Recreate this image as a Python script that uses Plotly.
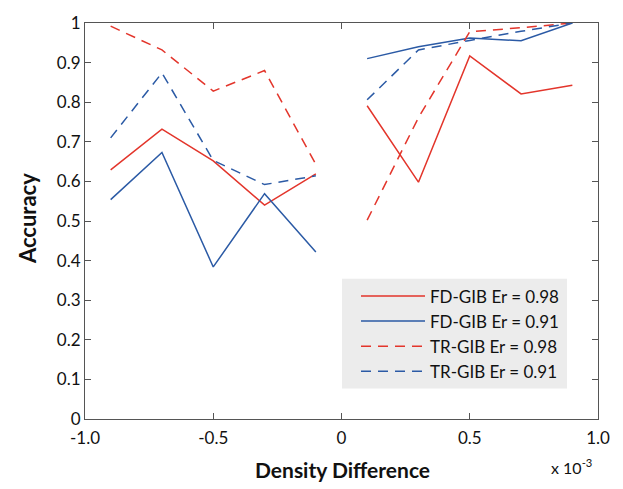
import plotly.graph_objects as go

x_left = [-0.9, -0.7, -0.5, -0.3, -0.1]
x_right = [0.1, 0.3, 0.5, 0.7, 0.9]

fd098_left = [0.629, 0.732, 0.652, 0.540, 0.619]
fd098_right = [0.791, 0.598, 0.917, 0.821, 0.843]
fd091_left = [0.554, 0.673, 0.384, 0.569, 0.422]
fd091_right = [0.910, 0.940, 0.962, 0.955, 1.0]
tr098_left = [0.992, 0.932, 0.828, 0.880, 0.643]
tr098_right = [0.502, 0.761, 0.978, 0.988, 1.0]
tr091_left = [0.710, 0.874, 0.653, 0.592, 0.614]
tr091_right = [0.806, 0.932, 0.956, 0.979, 1.0]

names = ["FD-GIB Er = 0.98", "FD-GIB Er = 0.91", "TR-GIB Er = 0.98", "TR-GIB Er = 0.91"]
RED = "#e3352b"
BLUE = "#2b5aa5"

series = [
    (names[0], fd098_left, fd098_right, RED, "solid"),
    (names[1], fd091_left, fd091_right, BLUE, "solid"),
    (names[2], tr098_left, tr098_right, RED, "dash"),
    (names[3], tr091_left, tr091_right, BLUE, "dash"),
]

fig = go.Figure()
for name, yl, yr, col, dash in series:
    fig.add_trace(go.Scatter(
        x=x_left + [None] + x_right,
        y=yl + [None] + yr,
        mode="lines", name=name, connectgaps=False,
        line=dict(color=col, width=1.5, dash="solid" if dash == "solid" else "10px,7px"),
    ))

FONT = "Lato, 'Open Sans', sans-serif"
axis_common = dict(
    showline=True, linecolor="#555555", linewidth=1.2, mirror="ticks",
    ticks="inside", ticklen=6, tickcolor="#555555", showgrid=False, zeroline=False,
    tickfont=dict(family=FONT, size=17, color="#111111"),
)

fig.update_layout(
    width=623, height=489,
    margin=dict(l=85, r=25, t=15, b=70),
    plot_bgcolor="white", paper_bgcolor="white",
    showlegend=True,
    legend=dict(
        x=(356 - 85) / 513, y=0.355, xanchor="left", yanchor="top",
        bgcolor="rgba(0,0,0,0)", borderwidth=0,
        font=dict(family=FONT, size=17, color="#111111"),
        tracegroupgap=0, itemwidth=64,
    ),
    xaxis=dict(range=[-1, 1], tickvals=[-1, -0.5, 0, 0.5, 1],
               ticktext=["-1.0", "-0.5", "0", "0.5", "1.0"], ticklabelstandoff=3, **axis_common),
    yaxis=dict(range=[0, 1], tickvals=[i / 10 for i in range(11)],
               ticktext=["0"] + [f"0.{i}" for i in range(1, 10)] + ["1"], **axis_common),
    shapes=[dict(type="rect", xref="paper", yref="paper",
                 x0=(342 - 85) / 513, x1=(567 - 85) / 513,
                 y0=(419 - 388) / 404, y1=(419 - 276) / 404,
                 fillcolor="#ececec", line=dict(width=0), layer="below")],
    annotations=[
        dict(text="<b>Density Difference</b>", xref="paper", yref="paper",
             x=(342 - 85) / 513, y=-(471 - 419) / 404, xanchor="center", yanchor="middle",
             showarrow=False, font=dict(family=FONT, size=21, color="#111111")),
        dict(text="<b>Accuracy</b>", xref="paper", yref="paper",
             x=-(85 - 27) / 513, y=(419 - 215) / 404, xanchor="center", yanchor="middle",
             textangle=-90, showarrow=False, font=dict(family=FONT, size=22, color="#111111")),
        dict(text="x 10<sup>-3</sup>", xref="paper", yref="paper",
             x=(594 - 85) / 513, y=-(467 - 419) / 404, xanchor="right", yanchor="middle",
             showarrow=False, font=dict(family=FONT, size=16, color="#111111")),
    ],
)

fig.write_html("out.html")
